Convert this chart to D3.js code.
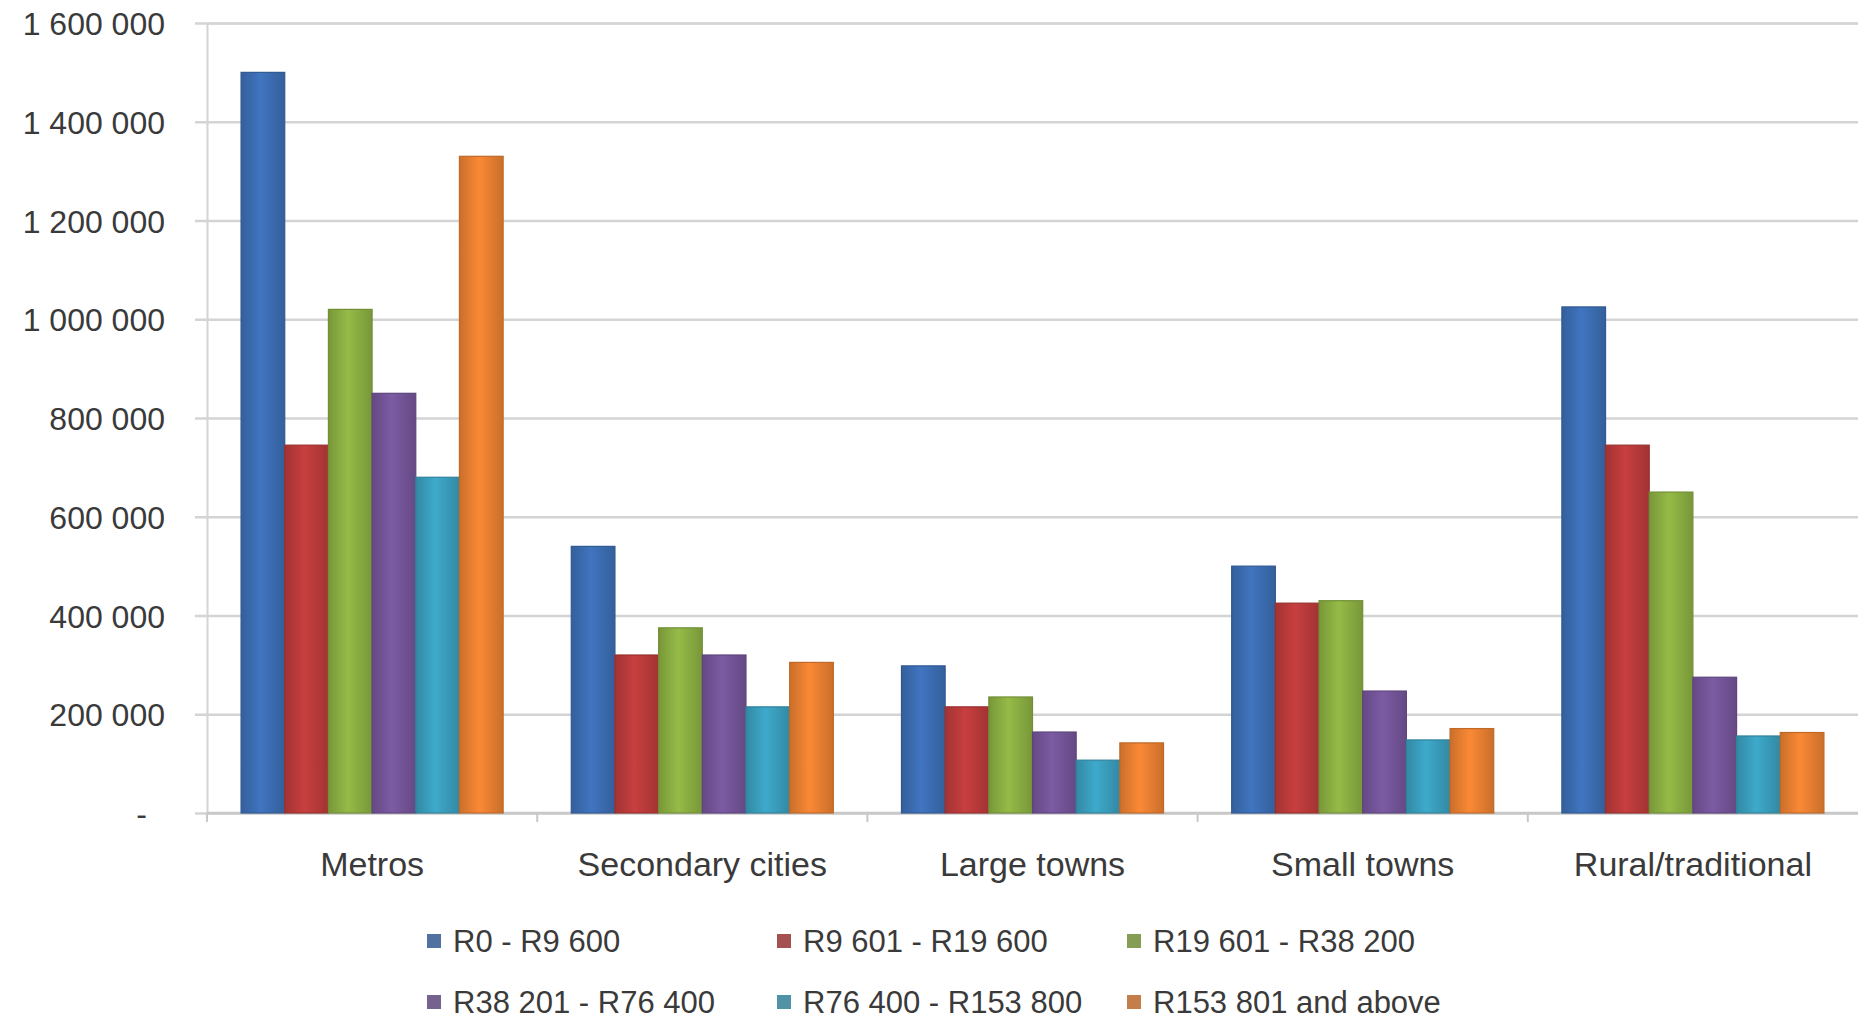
<!DOCTYPE html>
<html>
<head>
<meta charset="utf-8">
<script src="https://cdn.jsdelivr.net/npm/d3@7"></script>
<style>
	html, body { margin: 0; padding: 0; background: #fff; }
	svg { display: block; }
	text { font-family: "Liberation Sans", Arial, sans-serif; fill: #3a3a3a; }
</style>
</head>
<body>
<div id="chart"></div>
<script>
// data
var categories = ['Metros', 'Secondary cities', 'Large towns', 'Small towns', 'Rural/traditional'];
var seriesNames = ['R0 - R9 600', 'R9 601 - R19 600', 'R19 601 - R38 200', 'R38 201 - R76 400', 'R76 400 - R153 800', 'R153 801 and above'];
var seriesColors = ['#3d6fb6', '#be3c3c', '#8db143', '#76569b', '#3ba1c0', '#ed8232'];

// one array per income band, in category order
var band0 = [1500000, 540000, 298000, 500000, 1025000];
var band1 = [745000, 320000, 215000, 425000, 745000];
var band2 = [1020000, 375000, 235000, 430000, 650000];
var band3 = [850000, 320000, 164000, 247000, 275000];
var band4 = [680000, 215000, 107000, 148000, 156000];
var band5 = [1330000, 305000, 142000, 171000, 163000];
var seriesValues = [band0, band1, band2, band3, band4, band5];

var yTicks = [0, 200000, 400000, 600000, 800000, 1000000, 1200000, 1400000, 1600000];

var width = 1858, height = 1026;
var plot = { left: 207, right: 1858, top: 23, bottom: 813 };

var svg = d3.select('#chart').append('svg')
	.attr('width', width)
	.attr('height', height);

var x0 = d3.scaleBand()
	.domain(categories)
	.range([plot.left, plot.right]);

var x1 = d3.scaleBand()
	.domain(d3.range(seriesNames.length))
	.range([0, x0.bandwidth()])
	.paddingOuter(0.78);

var y = d3.scaleLinear()
	.domain([0, 1600000])
	.range([plot.bottom, plot.top]);

// bar shading, darker at the sides like the old excel look
var defs = svg.append('defs');
seriesColors.forEach(function(c, i){
	var g = defs.append('linearGradient')
		.attr('id', 'grad' + i)
		.attr('x1', '0%').attr('x2', '100%')
		.attr('y1', '0%').attr('y2', '0%');
	var dark = d3.color(c).darker(0.45);
	var light = d3.color(c).brighter(0.15);
	g.append('stop').attr('offset', '0%').attr('stop-color', dark);
	g.append('stop').attr('offset', '45%').attr('stop-color', light);
	g.append('stop').attr('offset', '100%').attr('stop-color', dark);
});

// gridlines with little ticks on the left of the axis
var yAxis = d3.axisLeft(y)
	.tickValues(yTicks)
	.tickSize(-(plot.right - plot.left))
	.tickPadding(42)
	.tickFormat(function(d){
		if (d === 0) return '-';
		return d3.format(',')(d).replace(/,/g, ' ');
	});

var gy = svg.append('g')
	.attr('transform', 'translate(' + plot.left + ',0)')
	.call(yAxis);

gy.select('.domain')
	.attr('stroke', '#d4d4d4')
	.attr('stroke-width', 2);

gy.selectAll('.tick line')
	.attr('x1', -12)
	.attr('stroke', '#d4d4d4')
	.attr('stroke-width', 2.5);

gy.selectAll('.tick text')
	.style('font-size', '32px')
	.attr('fill', '#3a3a3a')
	.attr('dy', '0.36em');

// zero label sits a bit further left
gy.selectAll('.tick text')
	.filter(function(d){ return d === 0; })
	.attr('x', -60);

// baseline + category ticks
svg.append('line')
	.attr('x1', plot.left)
	.attr('x2', plot.right)
	.attr('y1', y(0))
	.attr('y2', y(0))
	.attr('stroke', '#c8c8c8')
	.attr('stroke-width', 2.5);

svg.selectAll('.catTick')
	.data(categories)
	.enter().append('line')
	.attr('class', 'catTick')
	.attr('x1', function(d){ return x0(d); })
	.attr('x2', function(d){ return x0(d); })
	.attr('y1', y(0))
	.attr('y2', y(0) + 9)
	.attr('stroke', '#c8c8c8')
	.attr('stroke-width', 2);

// bars
var groups = svg.selectAll('.cat')
	.data(categories)
	.enter().append('g')
	.attr('class', 'cat')
	.attr('transform', function(d){ return 'translate(' + x0(d) + ',0)'; });

groups.selectAll('rect')
	.data(function(d, ci){
		return seriesValues.map(function(vals, si){
			return { s: si, v: vals[ci] };
		});
	})
	.enter().append('rect')
	.attr('x', function(d){ return x1(d.s); })
	.attr('width', x1.bandwidth())
	.attr('y', function(d){ return y(d.v); })
	.attr('height', function(d){ return y(0) - y(d.v); })
	.attr('fill', function(d){ return 'url(#grad' + d.s + ')'; })
	.attr('stroke', function(d){ return d3.color(seriesColors[d.s]).darker(0.6); })
	.attr('stroke-width', 1.2);

// category labels
var xAxis = d3.axisBottom(x0).tickSize(0).tickPadding(39);
var gx = svg.append('g')
	.attr('transform', 'translate(0,' + y(0) + ')')
	.call(xAxis);
gx.select('.domain').remove();
gx.selectAll('text')
	.style('font-size', '34px')
	.attr('fill', '#3a3a3a');

// legend, 3 per row (second row kept just inside the bottom edge)
var legendCols = 3;
var legend = svg.selectAll('.legendItem')
	.data(seriesNames)
	.enter().append('g')
	.attr('class', 'legendItem')
	.attr('transform', function(d, i){
		var col = i % legendCols;
		var row = Math.floor(i / legendCols);
		return 'translate(' + (427 + col * 350) + ',' + (941 + row * 61) + ')';
	});

legend.append('rect')
	.attr('x', 0)
	.attr('y', -7)
	.attr('width', 14)
	.attr('height', 14)
	.attr('fill', function(d, i){ return d3.interpolateRgb(seriesColors[i], '#777')(0.35); });

legend.append('text')
	.attr('x', 26)
	.attr('dy', '0.36em')
	.style('font-size', '31px')
	.text(function(d){ return d; });
</script>
</body>
</html>
